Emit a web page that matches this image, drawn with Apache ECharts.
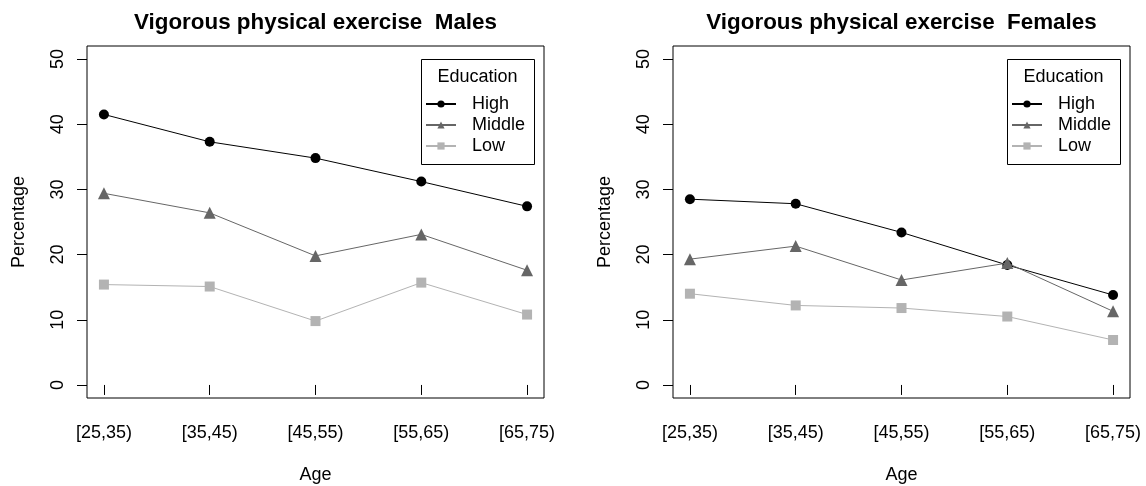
<!DOCTYPE html>
<html>
<head>
<meta charset="utf-8">
<script src="https://cdn.jsdelivr.net/npm/echarts@6/dist/echarts.min.js"></script>
<style>
html,body{margin:0;padding:0;background:#fff;}
#chart{width:1146px;height:486px;}
</style>
</head>
<body>
<div id="chart"></div>
<script>
const categories = ['[25,35)', '[35,45)', '[45,55)', '[55,65)', '[65,75)'];
const seriesNames = ['High', 'Middle', 'Low'];
const malesHigh = [41.5, 37.3, 34.8, 31.2, 27.4];
const malesMiddle = [29.4, 26.4, 19.8, 23.1, 17.6];
const malesLow = [15.4, 15.1, 9.8, 15.7, 10.8];
const femalesHigh = [28.5, 27.8, 23.4, 18.4, 13.8];
const femalesMiddle = [19.3, 21.3, 16.1, 18.7, 11.3];
const femalesLow = [14.0, 12.2, 11.8, 10.5, 6.9];
const yTicks = [0, 10, 20, 30, 40, 50];
const panelTitles = ['Vigorous physical exercise  Males', 'Vigorous physical exercise  Females'];

const FONT = '"Liberation Sans", Arial, Helvetica, sans-serif';
const colors = ['#000000', '#666666', '#b3b3b3'];
const symbols = ['circle', 'triangle', 'rect'];
const symbolSizes = [10, 12, 10];
const xPositions = categories.map((c, i) => i + 1);

const panels = [
  { left: 87, right: 602, data: [malesHigh, malesMiddle, malesLow] },
  { left: 673, right: 16, data: [femalesHigh, femalesMiddle, femalesLow] }
];
const gridWidth = 457;

const chart = echarts.init(document.getElementById('chart'), null, { renderer: 'canvas' });

const grids = [], xAxes = [], yAxes = [], series = [], titles = [], legends = [], graphics = [];

panels.forEach((p, k) => {
  grids.push({
    left: p.left, right: p.right, top: 46, bottom: 88,
    show: true, borderColor: '#000', borderWidth: 1, backgroundColor: 'transparent',
    containLabel: false, outerBoundsMode: 'none'
  });
  xAxes.push({
    type: 'value', gridIndex: k, min: 0.84, max: 5.16,
    axisLine: { show: false },
    splitLine: { show: false },
    axisTick: { show: true, inside: false, length: 10, customValues: xPositions, lineStyle: { color: '#000', width: 1 } },
    axisLabel: {
      show: true, customValues: xPositions, margin: 26,
      fontSize: 18, color: '#000', fontFamily: FONT,
      formatter: v => categories[Math.round(v) - 1] || ''
    },
    name: 'Age', nameLocation: 'middle', nameGap: 68,
    nameTextStyle: { fontSize: 18, color: '#000', fontFamily: FONT }
  });
  yAxes.push({
    type: 'value', gridIndex: k, min: -2, max: 52,
    axisLine: { show: false },
    splitLine: { show: false },
    axisTick: { show: true, inside: false, length: 10, customValues: yTicks, lineStyle: { color: '#000', width: 1 } },
    axisLabel: {
      show: true, customValues: yTicks, rotate: 90, margin: 20,
      fontSize: 18, color: '#000', fontFamily: FONT
    },
    name: 'Percentage', nameLocation: 'middle', nameGap: 59, nameRotate: 90,
    nameTextStyle: { fontSize: 18, color: '#000', fontFamily: FONT }
  });
  p.data.forEach((arr, j) => {
    series.push({
      name: seriesNames[j], type: 'line', xAxisIndex: k, yAxisIndex: k,
      data: arr.map((v, i) => [xPositions[i], v]),
      symbol: symbols[j], symbolSize: symbolSizes[j], showSymbol: true,
      lineStyle: { color: colors[j], width: 1 },
      itemStyle: { color: colors[j] },
      z: 2 + j, silent: true
    });
  });
  const cx = p.left + gridWidth / 2;
  titles.push({
    text: panelTitles[k], left: cx, top: 12, textAlign: 'center', padding: 0,
    textStyle: { fontSize: 22.4, fontWeight: 'bold', color: '#000', fontFamily: FONT }
  });
  const boxRight = p.left + gridWidth - 10;
  const boxLeft = boxRight - 113;
  titles.push({
    text: 'Education', left: boxLeft + 56.5, top: 68, textAlign: 'center', padding: 0,
    textStyle: { fontSize: 18, fontWeight: 'normal', color: '#000', fontFamily: FONT }
  });
  graphics.push({
    type: 'rect', left: boxLeft, top: 59, silent: true,
    shape: { x: 0.5, y: 0.5, width: 113, height: 105 },
    style: { fill: 'transparent', stroke: '#000', lineWidth: 1 }
  });
  legends.push({
    data: seriesNames, orient: 'vertical', left: boxLeft + 4, top: 95, padding: 0,
    itemWidth: 30, itemHeight: 9, itemGap: 3, selectedMode: false,
    textStyle: { fontSize: 18, lineHeight: 18, color: '#000', fontFamily: FONT, padding: [0, 0, 0, 11] }
  });
});

chart.setOption({
  animation: false,
  backgroundColor: '#ffffff',
  textStyle: { fontFamily: FONT },
  title: titles,
  legend: legends,
  grid: grids,
  xAxis: xAxes,
  yAxis: yAxes,
  series: series,
  graphic: graphics
});
</script>
</body>
</html>
